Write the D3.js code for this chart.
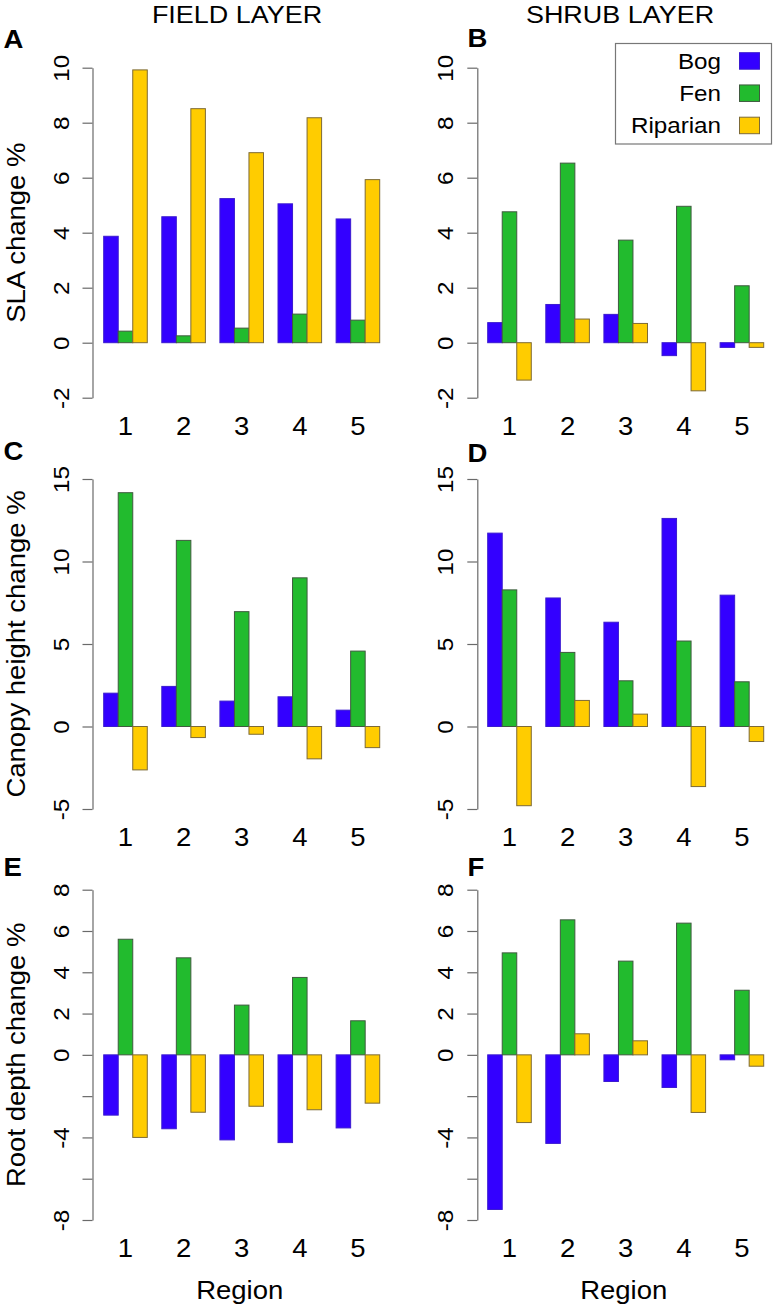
<!DOCTYPE html>
<html>
<head>
<meta charset="utf-8">
<script src="https://cdn.jsdelivr.net/npm/d3@7"></script>
<style>
  html, body { margin: 0; padding: 0; background: #fff; }
  svg { display: block; }
  text { font-family: "Liberation Sans", Arial, Helvetica, sans-serif; fill: #000; }
</style>
</head>
<body>
<svg id="chart" width="774" height="1307"></svg>
<script>
// ---------- data ----------
const regions = ["1", "2", "3", "4", "5"];
const seriesNames = ["Bog", "Fen", "Riparian"];
const seriesColors = ["#3300ff", "#22bb2e", "#ffcc00"];
const seriesStrokes = ["#3a1ad0", "#3f5a3f", "#7d6a36"];

const slaFieldBog = [3.87, 4.58, 5.24, 5.05, 4.50];
const slaFieldFen = [0.42, 0.25, 0.53, 1.04, 0.82];
const slaFieldRip = [9.92, 8.51, 6.91, 8.18, 5.93];
const slaShrubBog = [0.73, 1.39, 1.03, -0.47, -0.17];
const slaShrubFen = [4.76, 6.53, 3.73, 4.96, 2.07];
const slaShrubRip = [-1.36, 0.86, 0.70, -1.75, -0.17];

const canopyFieldBog = [2.02, 2.43, 1.54, 1.80, 0.99];
const canopyFieldFen = [14.17, 11.28, 6.96, 9.01, 4.57];
const canopyFieldRip = [-2.63, -0.67, -0.47, -1.96, -1.28];
const canopyShrubBog = [11.72, 7.79, 6.32, 12.61, 7.96];
const canopyShrubFen = [8.28, 4.49, 2.77, 5.18, 2.71];
const canopyShrubRip = [-4.80, 1.58, 0.75, -3.64, -0.91];

const rootFieldBog = [-2.92, -3.58, -4.12, -4.25, -3.54];
const rootFieldFen = [5.60, 4.70, 2.41, 3.75, 1.65];
const rootFieldRip = [-4.00, -2.78, -2.49, -2.66, -2.34];
const rootShrubBog = [-7.49, -4.29, -1.29, -1.58, -0.24];
const rootShrubFen = [4.94, 6.54, 4.54, 6.38, 3.13];
const rootShrubRip = [-3.28, 1.02, 0.68, -2.79, -0.55];

const slaTicks = [-2, 0, 2, 4, 6, 8, 10];
const slaTickLabels = ["-2", "0", "2", "4", "6", "8", "10"];
const canopyTicks = [-5, 0, 5, 10, 15];
const canopyTickLabels = ["-5", "0", "5", "10", "15"];
const rootTicks = [-8, -6, -4, -2, 0, 2, 4, 6, 8];
const rootTickLabels = ["-8", "", "-4", "", "0", "2", "4", "6", "8"];

const columnTitles = ["FIELD LAYER", "SHRUB LAYER"];
const yTitles = ["SLA change %", "Canopy height change %", "Root depth change %"];
const panelLetters = ["A", "B", "C", "D", "E", "F"];
const xTitle = "Region";

// ---------- layout ----------
const svg = d3.select("#chart");
const SX = 1.1; // horizontal stretch of text glyphs in reference

const cols = [
  { axisX: 92.5, bandRange: [103.7, 379.7], letterX: 3.5, titleX: 237 },
  { axisX: 477.3, bandRange: [487.7, 763.7], letterX: 467.5, titleX: 620 }
];
const rows = [
  { yRange: [397.7, 67.7], domain: [-2, 10], ticks: slaTicks, labels: slaTickLabels,
    data: [[slaFieldBog, slaFieldFen, slaFieldRip], [slaShrubBog, slaShrubFen, slaShrubRip]],
    letterY: [48, 47] },
  { yRange: [809, 479], domain: [-5, 15], ticks: canopyTicks, labels: canopyTickLabels,
    data: [[canopyFieldBog, canopyFieldFen, canopyFieldRip], [canopyShrubBog, canopyShrubFen, canopyShrubRip]],
    letterY: [460, 462] },
  { yRange: [1220, 889.7], domain: [-8, 8], ticks: rootTicks, labels: rootTickLabels,
    data: [[rootFieldBog, rootFieldFen, rootFieldRip], [rootShrubBog, rootShrubFen, rootShrubRip]],
    letterY: [876, 876] }
];

function stretchedText(g, x, y, str, size, opts = {}) {
  const rot = opts.rotate ? ` rotate(${opts.rotate})` : "";
  return g.append("text")
    .attr("transform", `translate(${x},${y})${rot} scale(${SX},1)`)
    .attr("text-anchor", opts.anchor || "middle")
    .attr("font-size", size)
    .attr("font-weight", opts.bold ? "bold" : "normal")
    .text(str);
}

// column titles
columnTitles.forEach((t, c) => stretchedText(svg, cols[c].titleX, 22.5, t, 24.5));

rows.forEach((row, r) => {
  const y = d3.scaleLinear().domain(row.domain).range(row.yRange);
  cols.forEach((col, c) => {
    const g = svg.append("g");
    const x0 = d3.scaleBand().domain(regions).range(col.bandRange).paddingInner(0.25).paddingOuter(0);
    const x1 = d3.scaleBand().domain(seriesNames).range([0, x0.bandwidth()]).padding(0);

    // y axis
    const axis = d3.axisLeft(y).tickValues(row.ticks).tickSize(10).tickSizeOuter(0)
      .tickFormat((d, i) => row.labels[i]);
    const ag = g.append("g").attr("transform", `translate(${col.axisX},0)`).call(axis);
    ag.select(".domain").attr("stroke", "#6a6a6a").attr("stroke-width", 1.2);
    ag.selectAll(".tick line").attr("stroke", "#6a6a6a").attr("stroke-width", 1.2);
    ag.selectAll(".tick text")
      .attr("x", null).attr("dy", null)
      .attr("transform", `translate(-24,0) rotate(-90) scale(${SX},1)`)
      .attr("text-anchor", "middle")
      .attr("font-size", 22)
      .attr("font-family", "'Liberation Sans', Arial, Helvetica, sans-serif")
      .attr("fill", "#000");

    // bars
    const data = row.data[c];
    const bars = [];
    regions.forEach((reg, i) => {
      seriesNames.forEach((s, k) => bars.push({ reg, s, k, v: data[k][i] }));
    });
    g.selectAll("rect.bar").data(bars).enter().append("rect")
      .attr("class", "bar")
      .attr("x", d => x0(d.reg) + x1(d.s))
      .attr("width", x1.bandwidth())
      .attr("y", d => y(Math.max(0, d.v)))
      .attr("height", d => Math.abs(y(d.v) - y(0)))
      .attr("fill", d => seriesColors[d.k])
      .attr("stroke", d => seriesStrokes[d.k])
      .attr("stroke-width", 1);

    // region labels
    const baseY = row.yRange[0] + 37;
    regions.forEach(reg => stretchedText(g, x0(reg) + x0.bandwidth() / 2, baseY, reg, 25));

    // y title (left column only)
    if (c === 0) {
      const cy = (row.yRange[0] + row.yRange[1]) / 2;
      stretchedText(g, 25, cy, yTitles[r], 25, { rotate: -90 });
    }
    // x title (bottom row)
    if (r === rows.length - 1) {
      const cx = (col.bandRange[0] + col.bandRange[1]) / 2 - 2;
      stretchedText(g, cx, 1299, xTitle, 25);
    }
    // panel letter
    stretchedText(g, col.letterX, row.letterY[c], panelLetters[r * 2 + c], 25, { anchor: "start", bold: true });
  });
});

// legend (panel B)
const lg = svg.append("g");
lg.append("rect").attr("x", 615.5).attr("y", 43.5).attr("width", 156).attr("height", 100.5)
  .attr("fill", "#fff").attr("stroke", "#777").attr("stroke-width", 1.2);
const legendY = d3.scalePoint().domain(seriesNames).range([61, 125.5]);
seriesNames.forEach((s, k) => {
  const cy = legendY(s);
  lg.append("rect").attr("x", 739.5).attr("y", cy - 8.3).attr("width", 20).attr("height", 16.5)
    .attr("fill", seriesColors[k]).attr("stroke", seriesStrokes[k]).attr("stroke-width", 1);
  stretchedText(lg, 721, cy + 7.5, s, 22, { anchor: "end" });
});
</script>
</body>
</html>
